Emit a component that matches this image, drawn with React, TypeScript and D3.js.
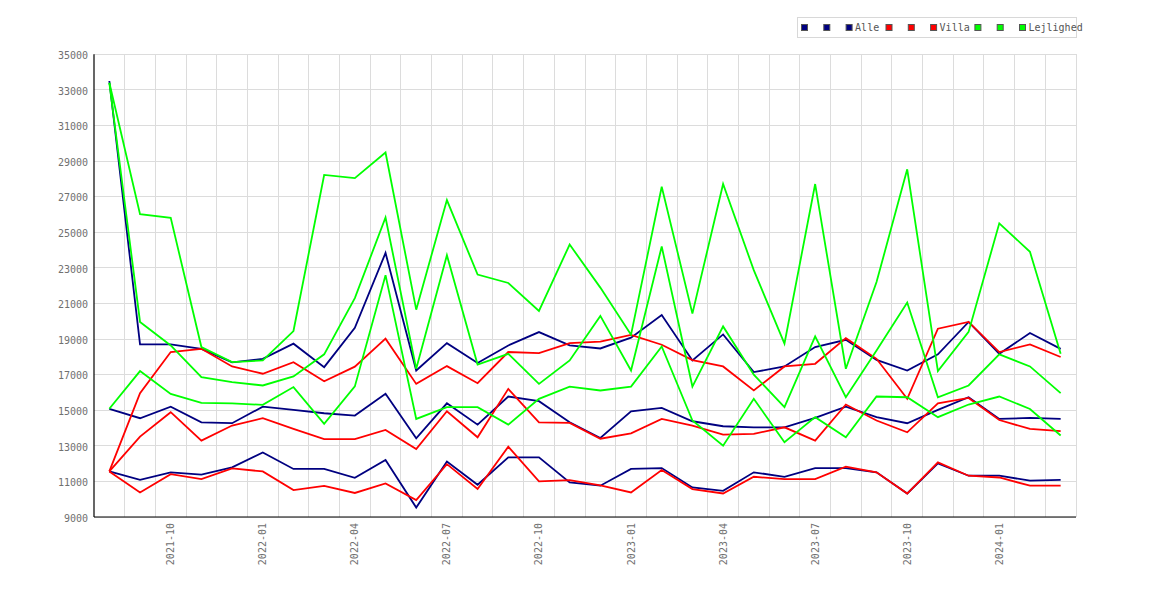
import React from 'react';
import * as d3 from 'd3';

// months on the x axis (2021-08 .. 2024-03)
const months = [
  '2021-08', '2021-09', '2021-10', '2021-11', '2021-12',
  '2022-01', '2022-02', '2022-03', '2022-04', '2022-05', '2022-06',
  '2022-07', '2022-08', '2022-09', '2022-10', '2022-11', '2022-12',
  '2023-01', '2023-02', '2023-03', '2023-04', '2023-05', '2023-06',
  '2023-07', '2023-08', '2023-09', '2023-10', '2023-11', '2023-12',
  '2024-01', '2024-02', '2024-03'
];

const yTicks = [9000, 11000, 13000, 15000, 17000, 19000, 21000, 23000, 25000, 27000, 29000, 31000, 33000, 35000];

const alleHigh = [33500, 18700, 18700, 18450, 17690, 17890, 18740, 17420, 19630, 23840, 17230, 18770, 17650, 18640, 19390, 18640, 18470, 19080, 20350, 17800, 19260, 17140, 17460, 18550, 18960, 17830, 17230, 18140, 19960, 18170, 19340, 18450];
const alleMid = [15080, 14550, 15200, 14320, 14270, 15200, 15020, 14830, 14700, 15920, 13420, 15390, 14190, 15770, 15510, 14320, 13440, 14940, 15130, 14380, 14100, 14040, 14040, 14570, 15200, 14610, 14270, 15020, 15730, 14510, 14570, 14510];
const alleLow = [11560, 11090, 11510, 11380, 11790, 12630, 11700, 11700, 11200, 12200, 9530, 12120, 10810, 12350, 12350, 10940, 10760, 11700, 11750, 10660, 10470, 11510, 11260, 11750, 11750, 11510, 10320, 12010, 11320, 11320, 11040, 11090];

const villaHigh = [11560, 15960, 18270, 18450, 17460, 17050, 17700, 16630, 17450, 19020, 16480, 17480, 16520, 18270, 18210, 18770, 18850, 19230, 18680, 17820, 17460, 16110, 17460, 17610, 19050, 17890, 15640, 19580, 19960, 18270, 18700, 17990];
const villaMid = [11560, 13520, 14890, 13290, 14140, 14550, 13950, 13380, 13380, 13890, 12820, 14940, 13480, 16200, 14320, 14290, 13400, 13700, 14510, 14130, 13630, 13670, 14040, 13290, 15320, 14420, 13760, 15390, 15690, 14450, 13950, 13820];
const villaLow = [11560, 10380, 11410, 11130, 11730, 11560, 10510, 10750, 10350, 10890, 9950, 11970, 10570, 12950, 11000, 11070, 10780, 10380, 11640, 10570, 10320, 11260, 11130, 11130, 11830, 11510, 10320, 12070, 11320, 11220, 10760, 10760];

const lejHigh = [33400, 26020, 25810, 18550, 17700, 17800, 19450, 28220, 28040, 29480, 20650, 26810, 22620, 22150, 20580, 24310, 21890, 19240, 27560, 20430, 27710, 22870, 18740, 27710, 17330, 22200, 28540, 17200, 19400, 25500, 23900, 18170];
const lejMid = [33400, 19960, 18640, 16860, 16580, 16390, 16900, 18140, 21300, 25830, 17330, 23710, 17570, 18170, 16480, 17800, 20300, 17230, 24200, 16330, 19710, 17000, 15170, 19150, 15730, 18360, 21050, 15730, 16390, 18140, 17460, 15960];
const lejLow = [15080, 17200, 15920, 15410, 15390, 15300, 16300, 14230, 16340, 22590, 14510, 15170, 15170, 14190, 15640, 16330, 16110, 16330, 18580, 14420, 13010, 15640, 13200, 14610, 13480, 15770, 15730, 14610, 15320, 15770, 15070, 13580];

const legendLabels = ['', '', 'Alle', '', '', 'Villa', '', '', 'Lejlighed'];
const seriesColors = ['#000080', '#000080', '#000080', '#ff0000', '#ff0000', '#ff0000', '#00ff00', '#00ff00', '#00ff00'];
const seriesValues = [alleHigh, alleMid, alleLow, villaHigh, villaMid, villaLow, lejHigh, lejMid, lejLow];

const WIDTH = 1170;
const HEIGHT = 600;
const FONT = '"DejaVu Sans Mono", monospace';

const App: React.FC = () => {
  const plot = { left: 94, right: 1076, top: 54.3, bottom: 517 };

  const x = d3.scaleBand<string>()
    .domain(months)
    .range([plot.left, plot.right]);
  const cx = (m: string) => (x(m) as number) + x.bandwidth() / 2;

  const y = d3.scaleLinear()
    .domain([9000, 35000])
    .range([plot.bottom, plot.top]);

  const line = d3.line<number>()
    .x((_, i) => cx(months[i]))
    .y(d => y(d));

  // legend layout
  let lx = 801;
  const legendItems = legendLabels.map((label, i) => {
    const item = { x: lx, label, color: seriesColors[i] };
    lx += 22.3 + (label ? label.length * 4.4 : 0);
    return item;
  });

  return (
    <div style={{ position: 'absolute', left: 0, top: 0 }}>
      <svg width={WIDTH} height={HEIGHT} style={{ display: 'block', background: '#fff' }}>
        {/* grid */}
        <g stroke="#dcdcdc" strokeWidth={1} shapeRendering="crispEdges">
          {yTicks.map(t => (
            <line key={'h' + t} x1={plot.left} x2={plot.right} y1={y(t)} y2={y(t)} />
          ))}
          {months.map(m => (
            <line key={'v' + m} x1={(x(m) as number) + x.bandwidth()} x2={(x(m) as number) + x.bandwidth()} y1={plot.top} y2={plot.bottom} />
          ))}
        </g>

        {/* y labels */}
        <g fontFamily={FONT} fontSize={10} fill="#707070" textAnchor="end">
          {yTicks.map(t => (
            <text key={'yl' + t} x={88} y={y(t) + 4.7}>{t}</text>
          ))}
        </g>

        {/* x labels */}
        <g fontFamily={FONT} fontSize={10} fill="#707070" textAnchor="end">
          {months.filter(m => ['01', '04', '07', '10'].includes(m.slice(5))).map(m => (
            <text key={'xl' + m} transform={`translate(${cx(m) + 3.5},523) rotate(-90)`}>{m}</text>
          ))}
        </g>

        {/* series */}
        {seriesValues.map((vals, i) => (
          <path key={'s' + i} d={line(vals) || ''} fill="none" stroke={seriesColors[i]} strokeWidth={1.8} strokeLinejoin="miter" />
        ))}

        {/* axes */}
        <g stroke="#000" strokeWidth={1.2}>
          <line x1={plot.left} x2={plot.left} y1={plot.top} y2={plot.bottom} />
          <line x1={plot.left} x2={plot.right} y1={plot.bottom} y2={plot.bottom} />
        </g>

        {/* legend */}
        <rect x={797.5} y={17.5} width={279} height={20} fill="#fff" stroke="#d8d8d8" />
        {legendItems.map((it, i) => (
          <g key={'lg' + i}>
            <rect x={it.x + 0.5} y={24.5} width={6} height={6} fill={it.color} stroke="#555" strokeWidth={1} />
            {it.label && (
              <text x={it.x + 9.5} y={31} fontFamily={FONT} fontSize={10} fill="#555">{it.label}</text>
            )}
          </g>
        ))}
      </svg>
    </div>
  );
};

export default App;
